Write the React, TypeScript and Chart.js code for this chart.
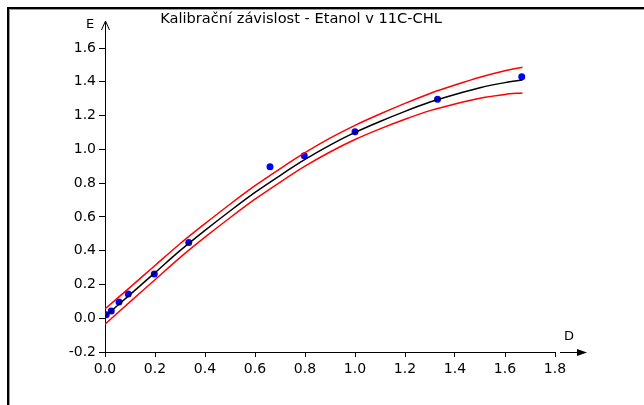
import React, { useEffect, useRef } from 'react';
import { Chart, registerables } from 'chart.js';

Chart.register(...registerables);

const TITLE = 'Kalibrační závislost - Etanol v 11C-CHL';
const X_LABEL = 'D';
const Y_LABEL = 'E';

const X_MIN = 0;
const X_MAX = 1.8;
const Y_MIN = -0.2;
const Y_MAX = 1.6;
const TICK_STEP = 0.2;

// measured calibration points
const pointsD = [0.005, 0.025, 0.056, 0.093, 0.197, 0.335, 0.66, 0.797, 1.0, 1.33, 1.667];
const pointsE = [0.02, 0.043, 0.096, 0.143, 0.262, 0.449, 0.897, 0.962, 1.104, 1.296, 1.43];

// fitted curve and confidence band
const curveD = [0, 0.1, 0.2, 0.3, 0.4, 0.5, 0.6, 0.7, 0.8, 0.9, 1.0, 1.1, 1.2, 1.3, 1.4, 1.5, 1.6, 1.67];
const fitE = [0.01, 0.14, 0.27, 0.4, 0.52, 0.635, 0.745, 0.845, 0.94, 1.025, 1.1, 1.165, 1.225, 1.28, 1.325, 1.365, 1.395, 1.41];
const upperE = [0.055, 0.183, 0.312, 0.441, 0.56, 0.675, 0.785, 0.885, 0.98, 1.066, 1.142, 1.209, 1.272, 1.331, 1.381, 1.427, 1.465, 1.486];
const lowerE = [-0.035, 0.097, 0.228, 0.359, 0.48, 0.595, 0.705, 0.805, 0.9, 0.984, 1.058, 1.121, 1.178, 1.229, 1.269, 1.303, 1.325, 1.334];

const FONT = '"DejaVu Sans", "Liberation Sans", Arial, sans-serif';

const toXY = (xs: number[], ys: number[]) => xs.map((x, i) => ({ x, y: ys[i] }));

const decorPlugin = {
  id: 'decor',
  afterDraw(chart: any) {
    const { ctx, chartArea } = chart;
    const { left, right, top, bottom } = chartArea;
    ctx.save();
    // frame
    ctx.fillStyle = '#000';
    ctx.fillRect(7, 7, 644, 2);
    ctx.fillRect(7, 7, 2, 405);
    ctx.fillStyle = '#999';
    ctx.fillRect(9, 9, 644, 1);
    ctx.fillRect(9, 9, 1, 405);

    ctx.strokeStyle = '#000';
    ctx.lineWidth = 1;
    // y axis extension + arrow
    const ax = Math.round(left) + 0.5;
    ctx.beginPath();
    ctx.moveTo(ax, top);
    ctx.lineTo(ax, top - 27);
    ctx.stroke();
    ctx.beginPath();
    ctx.moveTo(ax - 4, top - 18);
    ctx.lineTo(ax, top - 27);
    ctx.lineTo(ax + 4, top - 18);
    ctx.stroke();
    // x axis extension + arrow
    const ay = Math.round(bottom) + 0.5;
    ctx.beginPath();
    ctx.moveTo(right + 5, ay);
    ctx.lineTo(right + 24, ay);
    ctx.stroke();
    ctx.fillStyle = '#000';
    ctx.beginPath();
    ctx.moveTo(right + 22, ay - 3.5);
    ctx.lineTo(right + 32, ay);
    ctx.lineTo(right + 22, ay + 3.5);
    ctx.closePath();
    ctx.fill();

    // axis names
    ctx.font = '13px ' + FONT;
    ctx.textAlign = 'center';
    ctx.textBaseline = 'middle';
    ctx.fillText(Y_LABEL, left - 15, top - 23);
    ctx.fillText(X_LABEL, right + 14, bottom - 15);

    // title
    ctx.font = '14.6px ' + FONT;
    ctx.fillText(TITLE, 301, 19);
    ctx.restore();
  },
};

export default function App() {
  const ref = useRef<HTMLCanvasElement | null>(null);
  useEffect(() => {
    if (!ref.current) return;
    const chart = new Chart(ref.current, {
      type: 'line',
      data: {
        datasets: [
          {
            label: 'upper',
            data: toXY(curveD, upperE),
            borderColor: '#ff0000',
            borderWidth: 1.5,
            pointRadius: 0,
            tension: 0.3,
            fill: false,
          },
          {
            label: 'lower',
            data: toXY(curveD, lowerE),
            borderColor: '#ff0000',
            borderWidth: 1.5,
            pointRadius: 0,
            tension: 0.3,
            fill: false,
          },
          {
            label: 'fit',
            data: toXY(curveD, fitE),
            borderColor: '#000000',
            borderWidth: 1.5,
            pointRadius: 0,
            tension: 0.3,
            fill: false,
          },
          {
            label: 'points',
            data: toXY(pointsD, pointsE),
            showLine: false,
            pointRadius: 3.5,
            pointBackgroundColor: '#0000ff',
            pointBorderColor: '#0000ff',
            pointBorderWidth: 0,
          },
        ],
      },
      options: {
        responsive: false,
        animation: false,
        devicePixelRatio: 1,
        layout: { padding: { left: 60, top: 48, right: 89, bottom: 25 } },
        plugins: {
          legend: { display: false },
          tooltip: { enabled: false },
          title: { display: false },
        },
        scales: {
          x: {
            type: 'linear',
            min: X_MIN,
            max: X_MAX,
            afterFit: (s: any) => { s.height = 28; },
            ticks: {
              stepSize: TICK_STEP,
              color: '#000',
              padding: 4,
              maxRotation: 0,
              font: { family: FONT, size: 14 },
              callback: (v: any) => Number(v).toFixed(1),
            },
            grid: { drawOnChartArea: false, drawTicks: true, tickLength: 5, color: '#000' },
            border: { display: true, color: '#000', width: 1 },
          },
          y: {
            type: 'linear',
            min: Y_MIN,
            max: Y_MAX,
            afterFit: (s: any) => { s.width = 45; },
            ticks: {
              stepSize: TICK_STEP,
              color: '#000',
              padding: 3,
              font: { family: FONT, size: 14 },
              callback: (v: any) => Number(v).toFixed(1),
            },
            grid: { drawOnChartArea: false, drawTicks: true, tickLength: 6, color: '#000' },
            border: { display: true, color: '#000', width: 1 },
          },
        },
      },
      plugins: [decorPlugin],
    });
    return () => chart.destroy();
  }, []);
  return (
    <div style={{ position: 'fixed', left: 0, top: 0, width: 644, height: 405, background: '#fff' }}>
      <canvas ref={ref} width={644} height={405} style={{ display: 'block', width: 644, height: 405 }} />
    </div>
  );
}
